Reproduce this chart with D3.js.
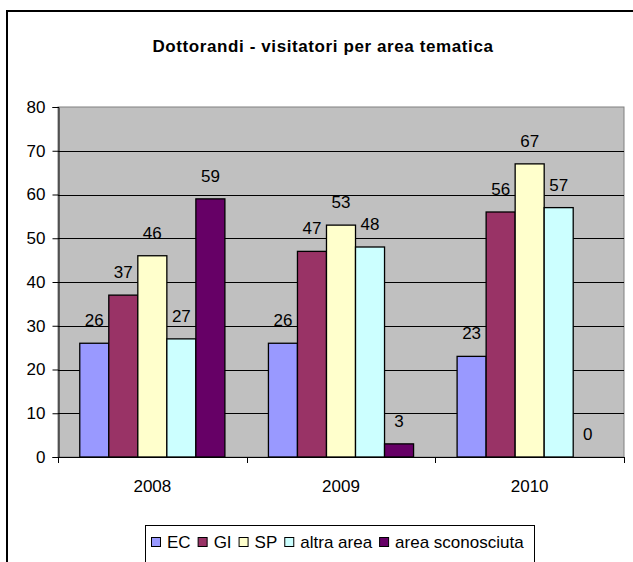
<!DOCTYPE html>
<html>
<head>
<meta charset="utf-8">
<script src="https://cdn.jsdelivr.net/npm/d3@7"></script>
<style>
  body { margin: 0; background: #fff; }
  svg { display: block; font-family: "Liberation Sans", Arial, sans-serif; }
</style>
</head>
<body>
<div id="chart"></div>
<script>
const years = ["2008", "2009", "2010"];
const seriesNames = ["EC", "GI", "SP", "altra area", "area sconosciuta"];
const seriesColors = ["#9999FF", "#993366", "#FFFFCC", "#CCFFFF", "#660066"];
const valuesEC = [26, 26, 23];
const valuesGI = [37, 47, 56];
const valuesSP = [46, 53, 67];
const valuesAltra = [27, 48, 57];
const valuesSconosciuta = [59, 3, 0];
const yTicks = [0, 10, 20, 30, 40, 50, 60, 70, 80];

const allSeries = [valuesEC, valuesGI, valuesSP, valuesAltra, valuesSconosciuta];

const W = 633, H = 562;
const plot = { left: 58, right: 624, top: 107, bottom: 457 };

const svg = d3.select("#chart").append("svg")
  .attr("width", W)
  .attr("height", H);

// outer chart frame (cropped at right and bottom)
svg.append("rect")
  .attr("x", 7).attr("y", 11)
  .attr("width", 700).attr("height", 600)
  .attr("fill", "#fff")
  .attr("stroke", "#000")
  .attr("stroke-width", 2);

svg.append("text")
  .attr("x", 323)
  .attr("y", 52)
  .attr("text-anchor", "middle")
  .attr("font-weight", "bold")
  .attr("font-size", 17)
  .attr("letter-spacing", 0.6)
  .text("Dottorandi - visitatori per area tematica");

const x0 = d3.scaleBand()
  .domain(years)
  .range([plot.left, plot.right])
  .padding(0);

const x1 = d3.scaleBand()
  .domain(seriesNames)
  .range([0, x0.bandwidth()])
  .paddingInner(0)
  .paddingOuter(0.75);

const y = d3.scaleLinear()
  .domain([0, 80])
  .range([plot.bottom, plot.top]);

// plot background
svg.append("rect")
  .attr("x", plot.left).attr("y", plot.top)
  .attr("width", plot.right - plot.left)
  .attr("height", plot.bottom - plot.top)
  .attr("fill", "#C0C0C0")
  .attr("stroke", "#808080")
  .attr("stroke-width", 1);

// gridlines
svg.append("g")
  .selectAll("line")
  .data(yTicks.filter(d => d > 0 && d < 80))
  .join("line")
  .attr("x1", plot.left).attr("x2", plot.right)
  .attr("y1", d => Math.round(y(d)) + 0.5)
  .attr("y2", d => Math.round(y(d)) + 0.5)
  .attr("stroke", "#000")
  .attr("stroke-width", 1);

// y axis
const yAxis = svg.append("g")
  .attr("transform", `translate(${plot.left + 0.5},0)`)
  .call(d3.axisLeft(y).tickValues(yTicks).tickSize(6).tickPadding(7));
yAxis.select(".domain").attr("stroke", "#000");
yAxis.selectAll("text")
  .attr("font-size", 17)
  .attr("font-family", "Liberation Sans, Arial, sans-serif")
  .attr("fill", "#000");

// bars
const groups = svg.append("g")
  .selectAll("g")
  .data(years)
  .join("g")
  .attr("transform", d => `translate(${x0(d)},0)`);

groups.selectAll("rect")
  .data((yr, i) => seriesNames.map((s, j) => ({ s, j, v: allSeries[j][i] })))
  .join("rect")
  .attr("x", d => x1(d.s))
  .attr("y", d => y(d.v))
  .attr("width", x1.bandwidth())
  .attr("height", d => y(0) - y(d.v))
  .attr("fill", d => seriesColors[d.j])
  .attr("stroke", "#000")
  .attr("stroke-width", d => d.v > 0 ? 1.3 : 0);

groups.selectAll("text")
  .data((yr, i) => seriesNames.map((s, j) => ({ s, j, v: allSeries[j][i] })))
  .join("text")
  .attr("x", d => x1(d.s) + x1.bandwidth() / 2)
  .attr("y", d => y(d.v) - 17)
  .attr("text-anchor", "middle")
  .attr("font-size", 17)
  .text(d => d.v);

// x axis
const xAxis = svg.append("g")
  .attr("transform", `translate(0,${plot.bottom + 0.5})`)
  .call(d3.axisBottom(x0).tickSize(0).tickPadding(0));
xAxis.select(".domain").remove();
xAxis.selectAll("text")
  .attr("y", 34)
  .attr("dy", 0)
  .attr("font-size", 17)
  .attr("font-family", "Liberation Sans, Arial, sans-serif")
  .attr("fill", "#000");

svg.append("line")
  .attr("x1", plot.left).attr("x2", plot.right)
  .attr("y1", plot.bottom + 0.5).attr("y2", plot.bottom + 0.5)
  .attr("stroke", "#000");

svg.append("g")
  .selectAll("line")
  .data(years.map(d => x0(d)).concat([plot.right]))
  .join("line")
  .attr("x1", d => Math.round(d) + 0.5).attr("x2", d => Math.round(d) + 0.5)
  .attr("y1", plot.bottom).attr("y2", plot.bottom + 6)
  .attr("stroke", "#000");

// legend
const legend = svg.append("g");
legend.append("rect")
  .attr("x", 145.5).attr("y", 525.5)
  .attr("width", 389).attr("height", 50)
  .attr("fill", "#fff")
  .attr("stroke", "#000")
  .attr("stroke-width", 1);

let lx = 151;
seriesNames.forEach((name, i) => {
  legend.append("rect")
    .attr("x", lx + 0.5).attr("y", 537.5)
    .attr("width", 9).attr("height", 9)
    .attr("fill", seriesColors[i])
    .attr("stroke", "#000");
  const t = legend.append("text")
    .attr("x", lx + 16)
    .attr("y", 548)
    .attr("font-size", 17)
    .text(name);
  lx += 16 + t.node().getComputedTextLength() + 7;
});
</script>
</body>
</html>
